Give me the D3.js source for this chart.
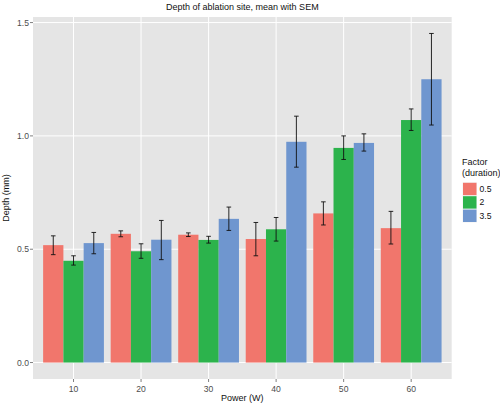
<!DOCTYPE html>
<html><head><meta charset="utf-8">
<script src="https://cdn.jsdelivr.net/npm/d3@7"></script>
<style>body{margin:0;background:#fff}svg{display:block}text{font-family:"Liberation Sans",Arial,sans-serif}</style>
</head><body><svg id="c" width="500" height="405"></svg>
<script>
const categories = ["10","20","30","40","50","60"];
const durations = ["0.5","2","3.5"];
const means = {
  "0.5": [0.518,0.568,0.564,0.545,0.658,0.593],
  "2":   [0.449,0.491,0.541,0.588,0.947,1.070],
  "3.5": [0.527,0.542,0.634,0.974,0.969,1.250]
};
const lower = {
  "0.5": [0.476,0.555,0.556,0.471,0.607,0.523],
  "2":   [0.430,0.460,0.527,0.536,0.896,1.024],
  "3.5": [0.480,0.454,0.583,0.862,0.933,1.048]
};
const upper = {
  "0.5": [0.559,0.581,0.572,0.618,0.709,0.667],
  "2":   [0.471,0.524,0.557,0.640,1.000,1.119],
  "3.5": [0.574,0.627,0.686,1.087,1.009,1.452]
};
const yTicks = [0.0,0.5,1.0,1.5];
const colors = {"0.5":"#f1766c","2":"#2cb34c","3.5":"#6f96cf"};

const svg = d3.select("#c");
const L=33, R=451.7, T=17, B=379;
const x = d3.scaleLinear().domain([0.4,6.6]).range([L,R]);
const y = d3.scaleLinear().domain([-0.0726,1.5246]).range([B,T]);

svg.append("rect").attr("x",L).attr("y",T).attr("width",R-L).attr("height",B-T).attr("fill","#e5e5e5");
// gridlines
svg.selectAll(".gy").data(yTicks).join("line").attr("x1",L).attr("x2",R)
  .attr("y1",d=>y(d)).attr("y2",d=>y(d)).attr("stroke","#fff").attr("stroke-width",1);
svg.selectAll(".gx").data(categories).join("line").attr("y1",T).attr("y2",B)
  .attr("x1",(d,i)=>x(i+1)).attr("x2",(d,i)=>x(i+1)).attr("stroke","#fff").attr("stroke-width",1);

const bw = 0.3;
durations.forEach((dur,j)=>{
  const off = (j-1)*bw;
  const g = svg.append("g");
  g.selectAll("rect").data(categories).join("rect")
    .attr("x",(d,i)=>x(i+1+off-bw/2)).attr("width",x(bw)-x(0))
    .attr("y",(d,i)=>y(means[dur][i])).attr("height",(d,i)=>y(0)-y(means[dur][i]))
    .attr("fill",colors[dur]);
});
durations.forEach((dur,j)=>{
  const off = (j-1)*bw;
  const g = svg.append("g").attr("stroke","#111").attr("stroke-width",0.9);
  categories.forEach((c,i)=>{
    const cx = x(i+1+off);
    const cw = 2.3;
    g.append("line").attr("x1",cx).attr("x2",cx).attr("y1",y(lower[dur][i])).attr("y2",y(upper[dur][i]));
    g.append("line").attr("x1",cx-cw).attr("x2",cx+cw).attr("y1",y(lower[dur][i])).attr("y2",y(lower[dur][i]));
    g.append("line").attr("x1",cx-cw).attr("x2",cx+cw).attr("y1",y(upper[dur][i])).attr("y2",y(upper[dur][i]));
  });
});

// axes
const fs = 8.6, tc = "#4d4d4d";
svg.selectAll(".ty").data(yTicks).join("text").attr("x",L-4).attr("y",d=>y(d)).attr("dy","0.35em")
  .attr("text-anchor","end").attr("font-size",fs).attr("fill",tc).text(d=>d.toFixed(1));
svg.selectAll(".tky").data(yTicks).join("line").attr("x1",L-3).attr("x2",L).attr("y1",d=>y(d)).attr("y2",d=>y(d)).attr("stroke","#7f7f7f");
svg.selectAll(".tx").data(categories).join("text").attr("x",(d,i)=>x(i+1)).attr("y",B+13)
  .attr("text-anchor","middle").attr("font-size",fs).attr("fill",tc).text(d=>d);
svg.selectAll(".tkx").data(categories).join("line").attr("y1",B).attr("y2",B+3).attr("x1",(d,i)=>x(i+1)).attr("x2",(d,i)=>x(i+1)).attr("stroke","#7f7f7f");

svg.append("text").attr("x",(L+R)/2).attr("y",401).attr("text-anchor","middle").attr("font-size",9).attr("fill","#111").text("Power (W)");
svg.append("text").attr("transform",`translate(9,${(T+B)/2}) rotate(-90)`).attr("text-anchor","middle").attr("font-size",9).attr("fill","#111").text("Depth (mm)");
svg.append("text").attr("x",(L+R)/2).attr("y",10).attr("text-anchor","middle").attr("font-size",9).attr("fill","#111").text("Depth of ablation site, mean with SEM");

// legend
const lg = svg.append("g");
lg.append("text").attr("x",462).attr("y",165).attr("font-size",9).attr("fill","#111").text("Factor");
lg.append("text").attr("x",462).attr("y",176).attr("font-size",9).attr("fill","#111").text("(duration)");
durations.forEach((dur,j)=>{
  const ky = 182.3 + j*13.4;
  lg.append("rect").attr("x",462.5).attr("y",ky).attr("width",14.5).attr("height",13.4).attr("fill","#f2f2f2");
  lg.append("rect").attr("x",463).attr("y",ky+0.5).attr("width",13.5).attr("height",12.4).attr("fill",colors[dur]);
  lg.append("text").attr("x",479.5).attr("y",ky+6.7).attr("dy","0.35em").attr("font-size",fs).attr("fill","#111").text(dur);
});
</script></body></html>
